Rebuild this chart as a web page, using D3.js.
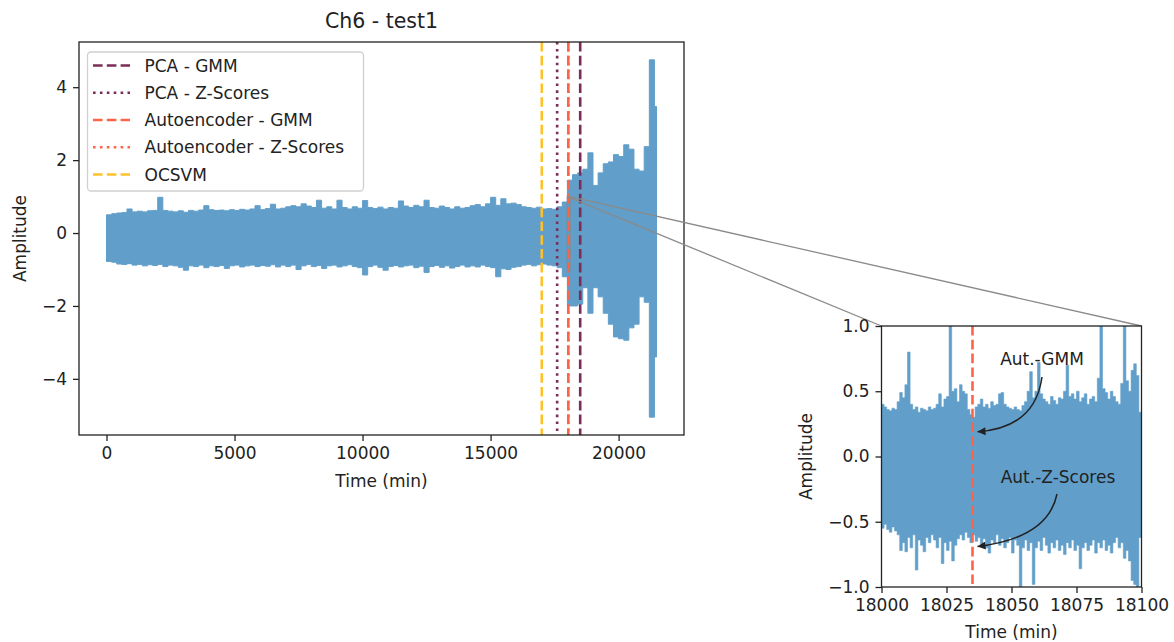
<!DOCTYPE html>
<html>
<head>
<meta charset="utf-8">
<script src="https://cdn.jsdelivr.net/npm/d3@7/dist/d3.min.js"></script>
<style>
  html, body { margin: 0; padding: 0; background: #fff; }
  svg { display: block; font-family: "DejaVu Sans", sans-serif; }
  .tick text { fill: #222; }
</style>
</head>
<body>
<svg id="chart" width="1174" height="642"></svg>
<script>
// ---- data -------------------------------------------------------------
// Channel 6 amplitude envelope, one max/min pair per 200-minute block.
const BIN_MIN = 200;
const END_MIN = 21480;
const mainUpper = [
  0.50,0.53,0.55,0.56,0.66,0.58,0.60,0.58,0.61,0.62,
  0.98,0.62,0.60,0.58,0.61,0.57,0.62,0.60,0.63,0.75,
  0.64,0.62,0.63,0.61,0.64,0.62,0.65,0.63,0.66,0.75,
  0.64,0.67,0.79,0.66,0.68,0.72,0.75,0.72,0.80,0.74,
  0.70,0.90,0.68,0.72,0.66,0.90,0.70,0.66,0.72,0.68,
  0.89,0.70,0.67,0.71,0.66,0.70,0.68,0.88,0.74,0.70,
  0.76,0.72,0.90,0.70,0.68,0.74,0.70,0.66,0.72,0.68,
  0.70,0.75,0.78,0.72,0.80,0.98,0.76,0.94,0.80,0.82,
  0.78,0.72,0.70,0.68,0.71,0.66,0.67,0.65,0.72,0.85,
  1.45,1.60,1.65,1.75,2.20,1.30,1.65,1.90,1.95,2.15,
  2.10,2.42,2.30,1.75,1.70,2.37,4.75,3.47
];
const mainLower = [
  -0.78,-0.80,-0.85,-0.86,-0.84,-0.88,-0.86,-0.90,-0.87,-0.89,
  -0.86,-0.92,-0.88,-0.90,-0.94,-1.02,-0.90,-0.92,-0.88,-0.95,
  -0.90,-0.92,-0.89,-0.97,-0.90,-0.88,-0.93,-0.90,-0.88,-0.92,
  -0.89,-0.91,-0.87,-0.93,-0.88,-0.92,-0.88,-1.00,-0.90,-0.86,
  -0.92,-0.89,-0.97,-0.90,-0.88,-0.93,-0.90,-0.87,-0.92,-0.95,
  -1.15,-0.92,-0.88,-0.94,-1.02,-0.92,-0.89,-0.93,-0.90,-0.88,
  -0.95,-0.91,-1.08,-0.92,-0.89,-0.94,-0.90,-0.96,-0.92,-0.88,
  -0.93,-0.90,-0.93,-0.88,-0.92,-0.95,-1.20,-0.98,-1.00,-0.94,
  -0.92,-0.88,-0.86,-0.90,-0.87,-0.85,-0.88,-0.90,-0.95,-1.20,
  -2.00,-2.00,-1.95,-1.50,-2.20,-1.50,-1.75,-2.20,-2.50,-2.85,
  -2.90,-2.94,-2.60,-2.50,-1.75,-1.90,-5.05,-3.40
];

// Zoomed window 18000-18100 min, one max/min pair per minute.
const ZOOM_START = 18000;
const ZOOM_END = 18100;
const ZOOM_BIN = 1;
const zoomUpper = [
  0.40,0.38,0.36,0.35,0.37,0.36,0.42,0.49,0.45,0.55,
  0.80,0.40,0.36,0.38,0.34,0.37,0.36,0.35,0.38,0.36,
  0.37,0.40,0.48,0.38,0.44,0.46,1.00,0.50,0.52,0.42,
  0.55,0.50,0.48,0.36,0.32,0.30,0.38,0.40,0.44,0.38,
  0.40,0.37,0.42,0.39,0.40,0.48,0.49,0.40,0.38,0.37,
  0.36,0.38,0.36,0.35,0.39,0.42,0.50,0.65,0.45,0.50,
  0.72,0.48,0.44,0.42,0.40,0.46,0.43,0.40,0.45,0.44,
  0.50,0.70,0.46,0.48,0.44,0.50,0.42,0.45,0.48,0.40,
  0.44,0.46,0.42,0.60,1.00,0.52,0.49,0.44,0.50,0.46,
  0.42,0.40,0.56,1.00,0.58,0.50,0.66,0.71,0.62,0.34
];
const zoomLower = [
  -0.55,-0.52,-0.56,-0.58,-0.54,-0.57,-0.60,-0.72,-0.66,-0.73,
  -0.62,-0.70,-0.60,-0.87,-0.64,-0.68,-0.73,-0.62,-0.66,-0.60,
  -0.64,-0.70,-0.62,-0.82,-0.66,-0.72,-0.65,-0.80,-0.68,-0.63,
  -0.60,-0.64,-0.58,-0.62,-0.66,-0.60,-0.65,-0.62,-0.68,-0.63,
  -0.70,-0.74,-0.64,-0.66,-0.60,-0.68,-0.63,-0.70,-0.66,-0.62,
  -0.74,-0.64,-0.68,-1.00,-0.70,-0.64,-0.72,-0.66,-0.98,-0.70,
  -0.65,-0.72,-0.62,-0.68,-0.74,-0.66,-0.70,-0.64,-0.72,-0.68,
  -0.75,-0.66,-0.70,-0.64,-0.72,-0.68,-0.86,-0.70,-0.66,-0.72,
  -0.68,-0.64,-0.74,-0.66,-0.70,-0.64,-0.72,-0.68,-0.74,-0.66,
  -0.62,-0.70,-0.66,-0.78,-0.72,-0.80,-0.95,-0.98,-1.00,-0.62
];

// Anomaly onset found by each detector (minutes).
const methods = ["PCA - GMM", "PCA - Z-Scores", "Autoencoder - GMM", "Autoencoder - Z-Scores", "OCSVM"];
const onsetMinutes = [18500, 17600, 18035, 18035, 17000];

const mainTitle = "Ch6 - test1";
const xTicksMain = [0, 5000, 10000, 15000, 20000];
const yTicksMain = [-4, -2, 0, 2, 4];
const xTicksZoom = [18000, 18025, 18050, 18075, 18100];
const yTicksZoom = [-1.0, -0.5, 0.0, 0.5, 1.0];
const zoomNotes = ["Aut.-GMM", "Aut.-Z-Scores"];

// ---- styles -----------------------------------------------------------
const methodColors = ["#7a2e57", "#7a2e57", "#ff6347", "#ff6347", "#fdc22a"];
const methodDash = ["9.6,4.2", "2.6,4.3", "9.6,4.2", "2.6,4.3", "9.6,4.2"];
const SIGNAL = "#1f77b4";
const FS = 17;

const svg = d3.select("#chart");

// ---- main axes --------------------------------------------------------
const M = { left: 79, right: 684, top: 42, bottom: 435 };
const x = d3.scaleLinear().domain([-1074, 22554]).range([M.left, M.right]);
const y = d3.scaleLinear().domain([-5.54, 5.24]).range([M.bottom, M.top]);

svg.append("clipPath").attr("id", "clipMain")
  .append("rect").attr("x", M.left).attr("y", M.top)
  .attr("width", M.right - M.left).attr("height", M.bottom - M.top);

const mainPts = mainUpper.map((u, i) => ({ t: i * BIN_MIN, hi: u, lo: mainLower[i] }));
mainPts.push({ t: END_MIN, hi: mainUpper[mainUpper.length - 1], lo: mainLower[mainLower.length - 1] });

const bandMain = d3.area().curve(d3.curveStepAfter)
  .x(d => x(d.t)).y0(d => y(d.lo)).y1(d => y(d.hi));

const gMain = svg.append("g").attr("clip-path", "url(#clipMain)");
gMain.append("g").attr("opacity", 0.7)
  .append("path").datum(mainPts).attr("d", bandMain)
  .attr("fill", SIGNAL).attr("stroke", SIGNAL).attr("stroke-width", 1.0)
  .attr("stroke-linejoin", "miter");

// detector onsets
methods.forEach((m, i) => {
  gMain.append("line")
    .attr("x1", x(onsetMinutes[i])).attr("x2", x(onsetMinutes[i]))
    .attr("y1", M.top).attr("y2", M.bottom)
    .attr("stroke", methodColors[i]).attr("stroke-width", 2.6)
    .attr("stroke-dasharray", methodDash[i]);
});

// axes
function styleAxis(g) {
  g.select(".domain").remove();
  g.selectAll(".tick line").attr("stroke", "#222").attr("stroke-width", 1.3);
  g.selectAll(".tick text").attr("font-size", FS).attr("font-family", "DejaVu Sans");
}
const fmtInt = d3.format("d");
svg.append("g").attr("transform", `translate(0,${M.bottom})`)
  .call(d3.axisBottom(x).tickValues(xTicksMain).tickFormat(fmtInt).tickSize(6).tickPadding(6))
  .call(styleAxis);
svg.append("g").attr("transform", `translate(${M.left},0)`)
  .call(d3.axisLeft(y).tickValues(yTicksMain).tickFormat(fmtInt).tickSize(6).tickPadding(6))
  .call(styleAxis);

svg.append("rect").attr("x", M.left).attr("y", M.top)
  .attr("width", M.right - M.left).attr("height", M.bottom - M.top)
  .attr("fill", "none").attr("stroke", "#222").attr("stroke-width", 1.3);

svg.append("text").attr("x", (M.left + M.right) / 2).attr("y", 28)
  .attr("text-anchor", "middle").attr("font-size", 20.5).attr("fill", "#222").text(mainTitle);
svg.append("text").attr("x", (M.left + M.right) / 2).attr("y", 487)
  .attr("text-anchor", "middle").attr("font-size", FS).attr("fill", "#222").text("Time (min)");
svg.append("text").attr("transform", `translate(26,${(M.top + M.bottom) / 2}) rotate(-90)`)
  .attr("text-anchor", "middle").attr("font-size", FS).attr("fill", "#222").text("Amplitude");

// legend
const leg = svg.append("g");
leg.append("rect").attr("x", 87.5).attr("y", 52).attr("width", 276).attr("height", 139)
  .attr("rx", 3.5).attr("fill", "#fff").attr("fill-opacity", 0.8)
  .attr("stroke", "#d0d0d0").attr("stroke-width", 1.3);
methods.forEach((m, i) => {
  const cy = 65.5 + i * 27.25;
  leg.append("line").attr("x1", 93).attr("x2", 130).attr("y1", cy).attr("y2", cy)
    .attr("stroke", methodColors[i]).attr("stroke-width", 2.6)
    .attr("stroke-dasharray", methodDash[i]);
  leg.append("text").attr("x", 144.5).attr("y", cy).attr("dy", "0.36em")
    .attr("font-size", FS).attr("fill", "#222").text(m);
});

// ---- zoomed axes ------------------------------------------------------
const Z = { left: 881.5, right: 1141.5, top: 326, bottom: 587 };
const xz = d3.scaleLinear().domain([ZOOM_START, ZOOM_END]).range([Z.left, Z.right]);
const yz = d3.scaleLinear().domain([-1, 1]).range([Z.bottom, Z.top]);

// region marker and connectors
const connColor = "#8a8a8a";
svg.append("rect")
  .attr("x", x(ZOOM_START)).attr("y", y(1))
  .attr("width", x(ZOOM_END) - x(ZOOM_START)).attr("height", y(-1) - y(1))
  .attr("fill", "none").attr("stroke", connColor).attr("stroke-width", 1.3);
svg.append("line").attr("x1", x(ZOOM_START)).attr("y1", y(1)).attr("x2", Z.left).attr("y2", Z.top)
  .attr("stroke", connColor).attr("stroke-width", 1.3);
svg.append("line").attr("x1", x(ZOOM_END)).attr("y1", y(1)).attr("x2", Z.right).attr("y2", Z.top)
  .attr("stroke", connColor).attr("stroke-width", 1.3);

svg.append("rect").attr("x", Z.left).attr("y", Z.top)
  .attr("width", Z.right - Z.left).attr("height", Z.bottom - Z.top).attr("fill", "#fff");

svg.append("clipPath").attr("id", "clipZoom")
  .append("rect").attr("x", Z.left).attr("y", Z.top)
  .attr("width", Z.right - Z.left).attr("height", Z.bottom - Z.top);

const zoomPts = zoomUpper.map((u, i) => ({ t: ZOOM_START + i * ZOOM_BIN, hi: u, lo: zoomLower[i] }));
zoomPts.push({ t: ZOOM_END, hi: zoomUpper[zoomUpper.length - 1], lo: zoomLower[zoomLower.length - 1] });
const bandZoom = d3.area().curve(d3.curveStepAfter)
  .x(d => xz(d.t)).y0(d => yz(d.lo)).y1(d => yz(d.hi));

const gZoom = svg.append("g").attr("clip-path", "url(#clipZoom)");
gZoom.append("g").attr("opacity", 0.7)
  .append("path").datum(zoomPts).attr("d", bandZoom)
  .attr("fill", SIGNAL).attr("stroke", SIGNAL).attr("stroke-width", 0.6);

// autoencoder onset inside the zoom window
gZoom.append("line")
  .attr("x1", xz(onsetMinutes[2])).attr("x2", xz(onsetMinutes[2]))
  .attr("y1", Z.top).attr("y2", Z.bottom)
  .attr("stroke", methodColors[2]).attr("stroke-width", 2.6)
  .attr("stroke-dasharray", methodDash[2]);

const fmt1 = d3.format(".1f");
svg.append("g").attr("transform", `translate(0,${Z.bottom})`)
  .call(d3.axisBottom(xz).tickValues(xTicksZoom).tickFormat(fmtInt).tickSize(6).tickPadding(6))
  .call(styleAxis);
svg.append("g").attr("transform", `translate(${Z.left},0)`)
  .call(d3.axisLeft(yz).tickValues(yTicksZoom).tickFormat(fmt1).tickSize(6).tickPadding(6))
  .call(styleAxis);
svg.append("rect").attr("x", Z.left).attr("y", Z.top)
  .attr("width", Z.right - Z.left).attr("height", Z.bottom - Z.top)
  .attr("fill", "none").attr("stroke", "#222").attr("stroke-width", 1.3);

svg.append("text").attr("x", (Z.left + Z.right) / 2).attr("y", 638)
  .attr("text-anchor", "middle").attr("font-size", FS).attr("fill", "#222").text("Time (min)");
svg.append("text").attr("transform", `translate(812,${(Z.top + Z.bottom) / 2}) rotate(-90)`)
  .attr("text-anchor", "middle").attr("font-size", FS).attr("fill", "#222").text("Amplitude");

// annotations with curved arrows pointing at the onset line
svg.append("defs").append("marker").attr("id", "head")
  .attr("viewBox", "0 0 10 10").attr("refX", 10).attr("refY", 5)
  .attr("markerWidth", 10).attr("markerHeight", 8).attr("markerUnits", "userSpaceOnUse")
  .attr("orient", "auto")
  .append("path").attr("d", "M0,0 L10,5 L0,10 Z").attr("fill", "#222");

const xOn = xz(onsetMinutes[2]) + 5;
const notes = [
  { text: zoomNotes[0], tx: 1042, ty: 365, sx: 1042, sy: 377, cx: 1035, cy: 428, ey: yz(0.19) },
  { text: zoomNotes[1], tx: 1058, ty: 483, sx: 1057, sy: 494, cx: 1048, cy: 538, ey: yz(-0.69) }
];
notes.forEach(n => {
  svg.append("text").attr("x", n.tx).attr("y", n.ty).attr("text-anchor", "middle")
    .attr("font-size", FS).attr("fill", "#222").text(n.text);
  svg.append("path").attr("d", `M${n.sx},${n.sy} Q${n.cx},${n.cy} ${xOn},${n.ey}`)
    .attr("fill", "none").attr("stroke", "#222").attr("stroke-width", 1.5)
    .attr("marker-end", "url(#head)");
});
</script>
</body>
</html>
